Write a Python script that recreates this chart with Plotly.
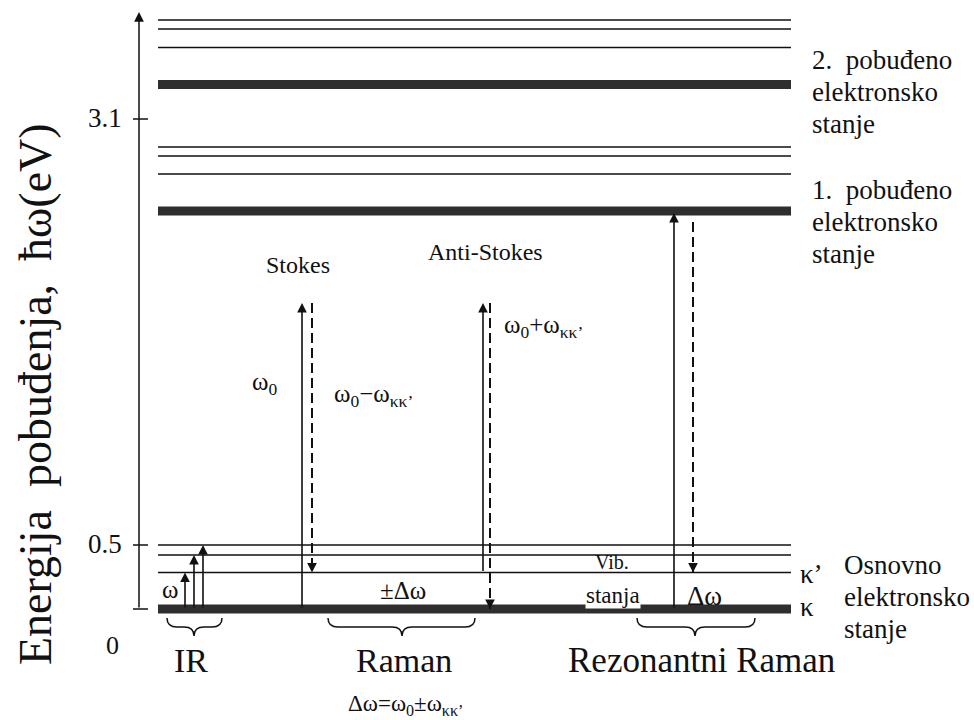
import plotly.graph_objects as go

# ---------------- data (diagram units: height above ground level) ----------------
level_x_span = [158, 791]
excited2_vib = [589, 580, 561.5]
excited2_base = [524.5]
excited1_vib = [462, 453, 435]
excited1_base = [398]
ground_vib = [64, 54, 36.5]
ground_base = [0]

tick_vals = [490, 64, 0]
tick_labels = ["3.1", "0.5", "0"]

# IR absorption arrows (x, start, end)
ir_x = [185, 194, 203]
ir_start = [0, 0, 0]
ir_end = [36.5, 54, 64]

# solid (excitation) arrows: x, start, end
solid_x = [302, 483, 674]
solid_start = [0, 36.5, 0]
solid_end = [306, 306, 396]

# dashed (scattered) arrows: x, start, end
dash_x = [312, 490, 693]
dash_start = [306, 306, 387]
dash_end = [36.5, 0, 36.5]

# braces: x0, x1, centre
brace_x0 = [167, 328, 637]
brace_x1 = [222, 475, 755]
brace_xc = [194, 402, 695]

group_labels = ["IR", "Raman", "Rezonantni Raman"]
group_label_x = [191, 404, 701]
group_label_size = [34, 34, 35]

state_labels_2 = ["2.&nbsp; pobuđeno", "elektronsko", "stanje"]
state_labels_1 = ["1.&nbsp; pobuđeno", "elektronsko", "stanje"]
state_labels_0 = ["Osnovno", "elektronsko", "stanje"]

FONT = "Liberation Serif, Times New Roman, serif"
INK = "#111111"
BAND = "#2e2e2e"

fig = go.Figure()
shapes = []
annotations = []

def hline(y, width, color):
    shapes.append(dict(type="line", xref="x", yref="y",
                       x0=level_x_span[0], x1=level_x_span[1], y0=y, y1=y,
                       line=dict(color=color, width=width)))

for y in excited2_vib + excited1_vib + ground_vib:
    hline(y, 1.6, INK)
for y in excited2_base + excited1_base + ground_base:
    hline(y, 9, BAND)

# vertical energy axis
axis_x = 139
annotations.append(dict(x=axis_x, y=597, ax=axis_x, ay=0, xref="x", yref="y",
                        axref="x", ayref="y", text="", showarrow=True,
                        arrowhead=2, arrowsize=1.3, arrowwidth=1.5, arrowcolor=INK,
                        standoff=0))
for tv in tick_vals:
    shapes.append(dict(type="line", xref="x", yref="y", x0=axis_x - 6, x1=axis_x + 9,
                       y0=tv, y1=tv, line=dict(color=INK, width=1.5)))
for tv, tl in zip(tick_vals, tick_labels):
    if tl == "0":
        annotations.append(dict(x=112, y=tv - 36, text=tl, showarrow=False,
                                xanchor="center", yanchor="middle",
                                font=dict(family=FONT, size=26, color=INK)))
    else:
        annotations.append(dict(x=124, y=tv + 1, text=tl, showarrow=False,
                                xanchor="right", yanchor="middle",
                                font=dict(family=FONT, size=27, color=INK)))

# axis title
annotations.append(dict(x=35, y=215,
                        text="Energija&nbsp; pobuđenja,&nbsp; ħω(eV)",
                        showarrow=False, textangle=-90, xanchor="center", yanchor="middle",
                        font=dict(family=FONT, size=46, color=INK)))

def arrow(x, y0, y1, width=1.6):
    annotations.append(dict(x=x, y=y1, ax=x, ay=y0, xref="x", yref="y",
                            axref="x", ayref="y", text="", showarrow=True,
                            arrowhead=2, arrowsize=1.2, arrowwidth=width,
                            arrowcolor=INK, standoff=0))

for x, s, e in zip(ir_x, ir_start, ir_end):
    arrow(x, s, e)
for x, s, e in zip(solid_x, solid_start, solid_end):
    arrow(x, s, e)
for x, s, e in zip(dash_x, dash_start, dash_end):
    shapes.append(dict(type="line", xref="x", yref="y", x0=x, x1=x, y0=s, y1=e,
                       line=dict(color=INK, width=2, dash="10px,5px")))
    annotations.append(dict(x=x, y=e, ax=0, ay=-10 if e < s else 10, xref="x", yref="y",
                            text="", showarrow=True, arrowhead=2, arrowsize=1.2,
                            arrowwidth=1.6, arrowcolor=INK, standoff=0))

# braces
top, mid, tip = -9, -18, -27
r = 10
for x0, x1, xc in zip(brace_x0, brace_x1, brace_xc):
    path = (f"M {x0},{top} Q {x0},{mid} {x0 + r},{mid} L {xc - r},{mid} "
            f"Q {xc},{mid} {xc},{tip} Q {xc},{mid} {xc + r},{mid} "
            f"L {x1 - r},{mid} Q {x1},{mid} {x1},{top}")
    shapes.append(dict(type="path", xref="x", yref="y", path=path,
                       line=dict(color=INK, width=1.5)))

for lbl, x, sz in zip(group_labels, group_label_x, group_label_size):
    annotations.append(dict(x=x, y=-51, text=lbl, showarrow=False,
                            xanchor="center", yanchor="middle",
                            font=dict(family=FONT, size=sz, color=INK)))

def txt(x, y, t, size=24, xanchor="center", bg=None):
    d = dict(x=x, y=y, text=t, showarrow=False, xanchor=xanchor, yanchor="middle",
             font=dict(family=FONT, size=size, color=INK))
    if bg:
        d["bgcolor"] = bg
        d["borderpad"] = 0
    annotations.append(d)

txt(298, 344, "Stokes")
txt(485, 357, "Anti-Stokes")
txt(264, 226, "ω<sub>0</sub>", 25)
txt(332, 214, "ω<sub>0</sub>−ω<sub>κκ’</sub>", 25, "left")
txt(502, 283, "ω<sub>0</sub>+ω<sub>κκ’</sub>", 25, "left")
txt(403, 19, "±Δω", 25)
txt(170, 20, "ω", 25)
txt(612, 47, "Vib.", 20)
txt(613, 14, "stanja", 23, bg="white")
txt(704, 13, "Δω", 27)
txt(798, 35, "κ’", 27, "left")
txt(798, 2, "κ", 27, "left")
txt(405, -96, "Δω=ω<sub>0</sub>±ω<sub>κκ’</sub>", 23)

for i, t in enumerate(state_labels_2):
    txt(810, 549 - 32 * i, t, 27, "left")
for i, t in enumerate(state_labels_1):
    txt(810, 419 - 32 * i, t, 27, "left")
for i, t in enumerate(state_labels_0):
    txt(842, 44 - 32 * i, t, 27, "left")

fig.update_layout(
    width=974, height=720,
    margin=dict(l=0, r=0, t=0, b=0),
    paper_bgcolor="white", plot_bgcolor="white",
    xaxis=dict(range=[0, 974], visible=False, fixedrange=True),
    yaxis=dict(range=[-111, 609], visible=False, fixedrange=True),
    shapes=shapes, annotations=annotations, showlegend=False,
)
fig.write_html("out.html",
               config={"displayModeBar": False, "staticPlot": True},
               post_script="document.body.style.margin='0';document.body.style.overflow='hidden';")
